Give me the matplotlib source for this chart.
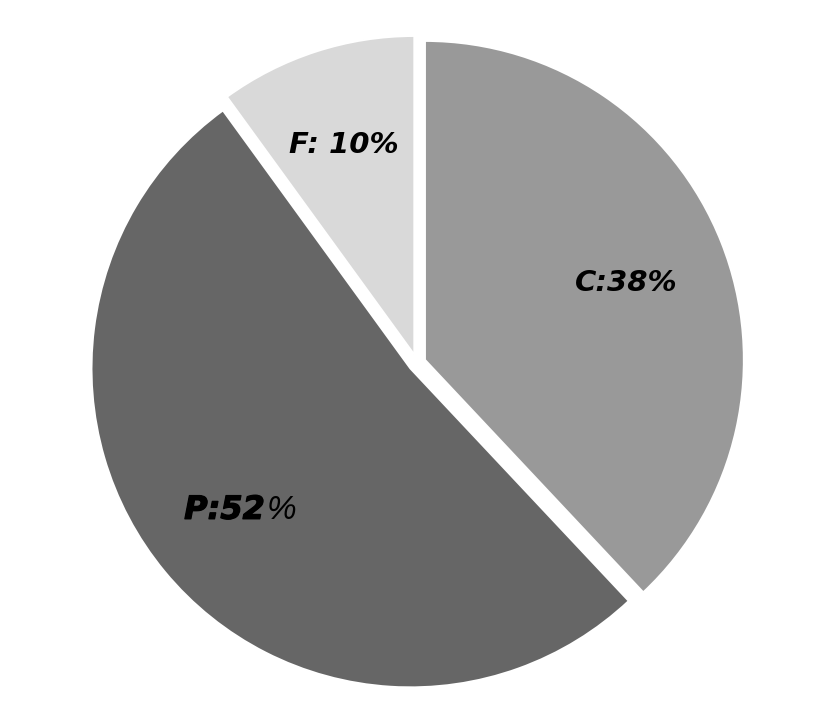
import numpy as np
import matplotlib
matplotlib.use("Agg")
import matplotlib.pyplot as plt
import matplotlib.patheffects as pe
from matplotlib.transforms import offset_copy

categories = ["C", "P", "F"]
values = [38, 52, 10]
colors = ["#999999", "#666666", "#d9d9d9"]

W, H = 824, 712
fig = plt.figure(figsize=(W / 100, H / 100), dpi=100)
ax = fig.add_axes([0, 0, 1, 1])

cx, cy, R = 417, H - 363, 319
gap = 8.5
wedges, _ = ax.pie(values, colors=colors, startangle=90, counterclock=False,
                   explode=[gap] * len(values), center=(cx, cy), radius=R,
                   wedgeprops=dict(edgecolor="white", linewidth=1.5),
                   frame=True)
ax.set_xlim(0, W)
ax.set_ylim(0, H)
ax.set_aspect("equal")
ax.axis("off")

total = sum(values)
start = 90.0
mids = []
for v in values:
    sweep = 360.0 * v / total
    mids.append(start - sweep / 2)
    start -= sweep

ld = 0.70
def pos(i):
    a = np.deg2rad(mids[i])
    return cx + ld * R * np.cos(a), cy + ld * R * np.sin(a)

font_main = dict(family="DejaVu Sans", weight="bold", style="italic", size=21, color="black")

x, y = pos(0)
ax.text(x + 2, y - 2, f"{categories[0]}:{values[0]}%", ha="center", va="center", **font_main)

x, y = pos(2)
ax.text(x - 4, y + 6, f"{categories[2]}: {values[2]}%", ha="center", va="center", **font_main)

x, y = pos(1)
tr = offset_copy(ax.transData, fig=fig, x=29, y=0, units="dots")
ax.text(x - 9, y - 5, f"{categories[1]}:{values[1]}", ha="right", va="center", transform=tr,
        family="DejaVu Sans", weight="bold", style="italic", size=23, color="black",
        path_effects=[pe.withStroke(linewidth=0.9, foreground="black")])
ax.text(x - 7, y - 5, "%", ha="left", va="center", transform=tr,
        family="Liberation Sans", weight="normal", style="italic", size=24, color="black")

fig.savefig("out.png", dpi=100, facecolor="white")
